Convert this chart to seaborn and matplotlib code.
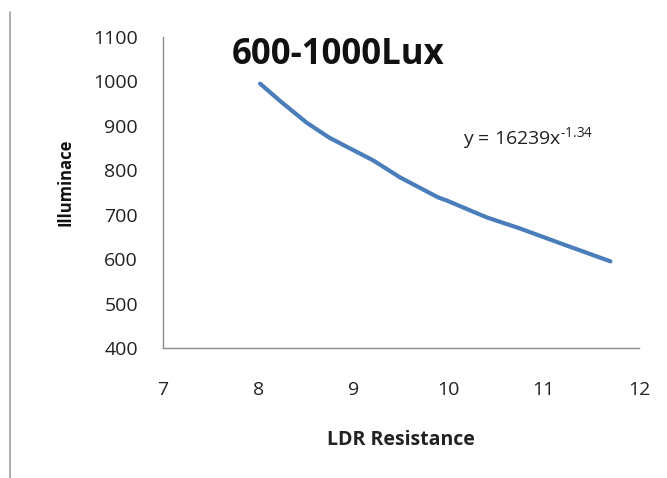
import numpy as np
import pandas as pd
import matplotlib
matplotlib.use("Agg")
import matplotlib.pyplot as plt
import seaborn as sns
from matplotlib.lines import Line2D

# values
ldr_resistance = [8.02, 8.23, 8.51, 8.75, 9.21, 9.49, 9.89, 9.98, 10.40, 10.75, 11.17, 11.70]
illuminance = [995, 956, 907, 873, 822, 784, 739, 732, 694, 669, 636, 595]

x_ticks = [7, 8, 9, 10, 11, 12]
y_ticks = [400, 500, 600, 700, 800, 900, 1000, 1100]

title = "600-1000Lux"
equation = r"y = 16239x$^{\text{-1.34}}$"

sns.set_style("white")
plt.rcParams["font.family"] = ["Open Sans", "DejaVu Sans"]
plt.rcParams["mathtext.fontset"] = "custom"
plt.rcParams["mathtext.rm"] = "Open Sans"

fig = plt.figure(figsize=(6.67, 4.78), dpi=100)
ax = fig.add_axes([163 / 667, 1 - 348 / 478, (639 - 163) / 667, (348 - 37) / 478])

df = pd.DataFrame({"LDR Resistance": ldr_resistance, "Illuminace": illuminance})
sns.lineplot(data=df, x="LDR Resistance", y="Illuminace", ax=ax,
             color="#4A7EBB", linewidth=3, sort=False)

ax.set_xlim(7, 12)
ax.set_ylim(400, 1100)
ax.set_xticks(x_ticks)
ax.set_yticks(y_ticks)
ax.tick_params(axis="both", length=0, labelsize=14, labelcolor="#222222")
ax.tick_params(axis="y", pad=18)
ax.tick_params(axis="x", pad=24)

for side in ["top", "right"]:
    ax.spines[side].set_visible(False)
for side in ["left", "bottom"]:
    ax.spines[side].set_color("#8c8c8c")
    ax.spines[side].set_linewidth(1)

ax.set_xlabel("LDR Resistance", fontsize=14, fontweight="bold", color="#222222")
ax.set_ylabel("Illuminace", fontsize=12, fontweight="bold", color="#111111")
ax.xaxis.set_label_coords(0.5, (348 - 430) / (348 - 37), transform=ax.transAxes)
ax.yaxis.set_label_coords((74 - 163) / (639 - 163), (348 - 182) / (348 - 37))

# chart title and trendline equation
fig.text(232 / 667, 1 - 55 / 478, title, fontsize=25, fontweight="bold",
         ha="left", va="center", color="#111111")
ax.text(10.15, 870, equation, fontsize=14, ha="left", va="center", color="#222222")

# page border line on the far left
fig.add_artist(Line2D([10 / 667, 10 / 667], [0, 1 - 12 / 478],
                      transform=fig.transFigure, color="#a0a0a0", linewidth=1.2))

plt.savefig("out.png", dpi=100)
plt.close()
